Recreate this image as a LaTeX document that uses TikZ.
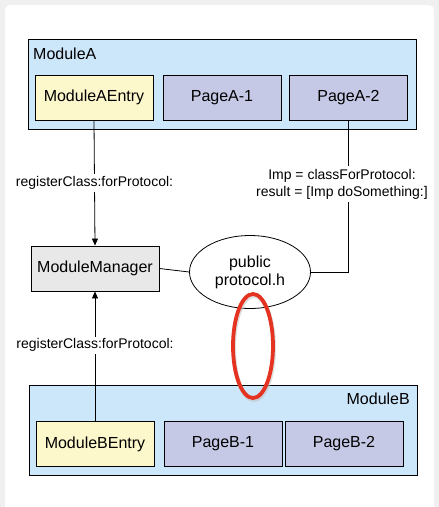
\documentclass[tikz,border=0pt]{standalone}
\usepackage{fontspec}
\setmainfont{Liberation Sans}
\usetikzlibrary{shapes.geometric,arrows.meta}
\definecolor{modblue}{HTML}{CCE6FA}
\definecolor{entryyel}{HTML}{FDF7CC}
\definecolor{pagelav}{HTML}{C6C9E6}
\definecolor{mgrgray}{HTML}{E8E8E8}
\definecolor{bggray}{HTML}{F0F0F0}
\definecolor{markred}{HTML}{E53322}
\tikzset{
  modbox/.style={draw=black, line width=0.9pt, fill=modblue},
  entrybox/.style={draw=black, line width=0.9pt, fill=entryyel, minimum width=118pt, minimum height=45pt, inner sep=0pt, font=\fontsize{16}{18}\selectfont},
  pagebox/.style={draw=black, line width=0.9pt, fill=pagelav, minimum width=118pt, minimum height=45pt, inner sep=0pt, font=\fontsize{16}{18}\selectfont},
  mgrbox/.style={draw=black, line width=0.9pt, fill=mgrgray, minimum width=128pt, minimum height=45pt, inner sep=0pt, font=\fontsize{16}{18}\selectfont},
  protoell/.style={ellipse, draw=black, line width=0.8pt, fill=white, minimum width=121pt, minimum height=73pt, inner sep=0pt, align=center, font=\fontsize{16}{18}\selectfont},
  lbl/.style={fill=white, inner sep=2pt, align=center, font=\fontsize{14}{17}\selectfont},
  conn/.style={draw=black, line width=0.8pt},
  arr/.style={conn, -{Triangle[length=7pt,width=6pt]}},
  ttl/.style={inner sep=0pt, font=\fontsize{16}{18}\selectfont},
}
\begin{document}
\begin{tikzpicture}[x=1pt, y=-1pt]
\useasboundingbox (0,0) rectangle (439,507);
\fill[bggray] (0,0) rectangle (439,507);
\fill[white, rounded corners=5pt] (5,5) rectangle (434,520);
% Module A
\draw[modbox] (28,39) rectangle (416,129);
\node[ttl, anchor=west] (ta) at (33,54) {ModuleA};
\node[entrybox] (mae) at (94,97.5) {ModuleAEntry};
\node[pagebox] (pa1) at (222,97.5) {PageA-1};
\node[pagebox] (pa2) at (348.5,97.5) {PageA-2};
% Module B
\draw[modbox] (29,385) rectangle (417,475);
\node[ttl, anchor=east] (tb) at (410,399) {ModuleB};
\node[entrybox] (mbe) at (95,444) {ModuleBEntry};
\node[pagebox] (pb1) at (223,444) {PageB-1};
\node[pagebox] (pb2) at (344,444) {PageB-2};
% Manager and protocol
\node[mgrbox] (mm) at (95,268.5) {ModuleManager};
\node[protoell] (pp) at (250,272) {public\\protocol.h};
% connectors
\draw[arr] (mae.south) -- node[lbl] (la) {registerClass:forProtocol:} (mm.north);
\draw[arr] (mbe.north) -- node[lbl, pos=0.585] (lb) {registerClass:forProtocol:} (mm.south);
\draw[conn] (mm.east) -- (pp.west);
\draw[conn] (pa2.south) |- (pp.east);
\node[lbl, inner sep=3pt] (lc) at (342,184) {Imp = classForProtocol:\\result = [Imp doSomething:]};
% red marker
\draw[black!25, line width=4pt, opacity=0.5] (254,348) ellipse (20pt and 52pt);
\draw[markred, line width=3.8pt] (253,346) ellipse (20pt and 52pt);
\end{tikzpicture}
\end{document}
